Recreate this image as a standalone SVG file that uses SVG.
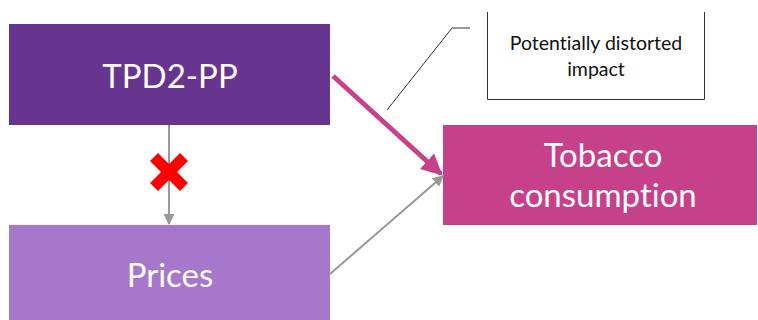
<svg xmlns="http://www.w3.org/2000/svg" width="758" height="320" viewBox="0 0 758 320">
<defs>
<style>
text{font-variant-ligatures:none}
.lbl{font-family:Lato,"Open Sans",sans-serif;fill:#fff;text-anchor:middle;font-size:33px}
.note{font-family:Lato,"Open Sans",sans-serif;fill:#111;text-anchor:middle;font-size:19.5px}
.gray{stroke:#999;stroke-width:2;fill:none}
</style>
<marker id="ag" viewBox="0 0 10 10" refX="9" refY="5" markerWidth="11" markerHeight="11" markerUnits="userSpaceOnUse" orient="auto"><path d="M0,0L10,5L0,10z" fill="#999"/></marker>
<marker id="am" viewBox="0 0 10 10" refX="9" refY="5" markerWidth="4.2" markerHeight="4.2" orient="auto"><path d="M0,0L10,5L0,10z" fill="#C7418A"/></marker>
</defs>
<g id="tpd">
<rect x="9" y="24" width="321" height="101" fill="#67358F"/>
<text class="lbl" x="170" y="88">TPD2-PP</text>
</g>
<g id="prices">
<rect x="9" y="225" width="321" height="95" fill="#A677CB"/>
<text class="lbl" x="170" y="287">Prices</text>
</g>
<g id="tobacco">
<rect x="443" y="125" width="314" height="100" fill="#C7418A"/>
<text class="lbl" x="603" y="167">Tobacco</text>
<text class="lbl" x="603" y="207">consumption</text>
</g>
<g id="note">
<path d="M487.5,12V99.5H704.5V12" fill="none" stroke="#333" stroke-width="1"/>
<text class="note" x="596" y="50">Potentially distorted</text>
<text class="note" x="596" y="76">impact</text>
<path d="M387,110L452,28H470" fill="none" stroke="#333" stroke-width="1"/>
</g>
<g id="connectors">
<line class="gray" x1="169" y1="125" x2="169" y2="224" marker-end="url(#ag)"/>
<line class="gray" x1="330" y1="274" x2="443" y2="176" marker-end="url(#ag)"/>
<line x1="333" y1="76" x2="441" y2="174" stroke="#C7418A" stroke-width="5" marker-end="url(#am)"/>
<path d="M150,161L158,153L169,164L180,153L188,161L177,172L188,183L180,191L169,180L158,191L150,183L161,172z" fill="#f00"/>
</g>
</svg>
